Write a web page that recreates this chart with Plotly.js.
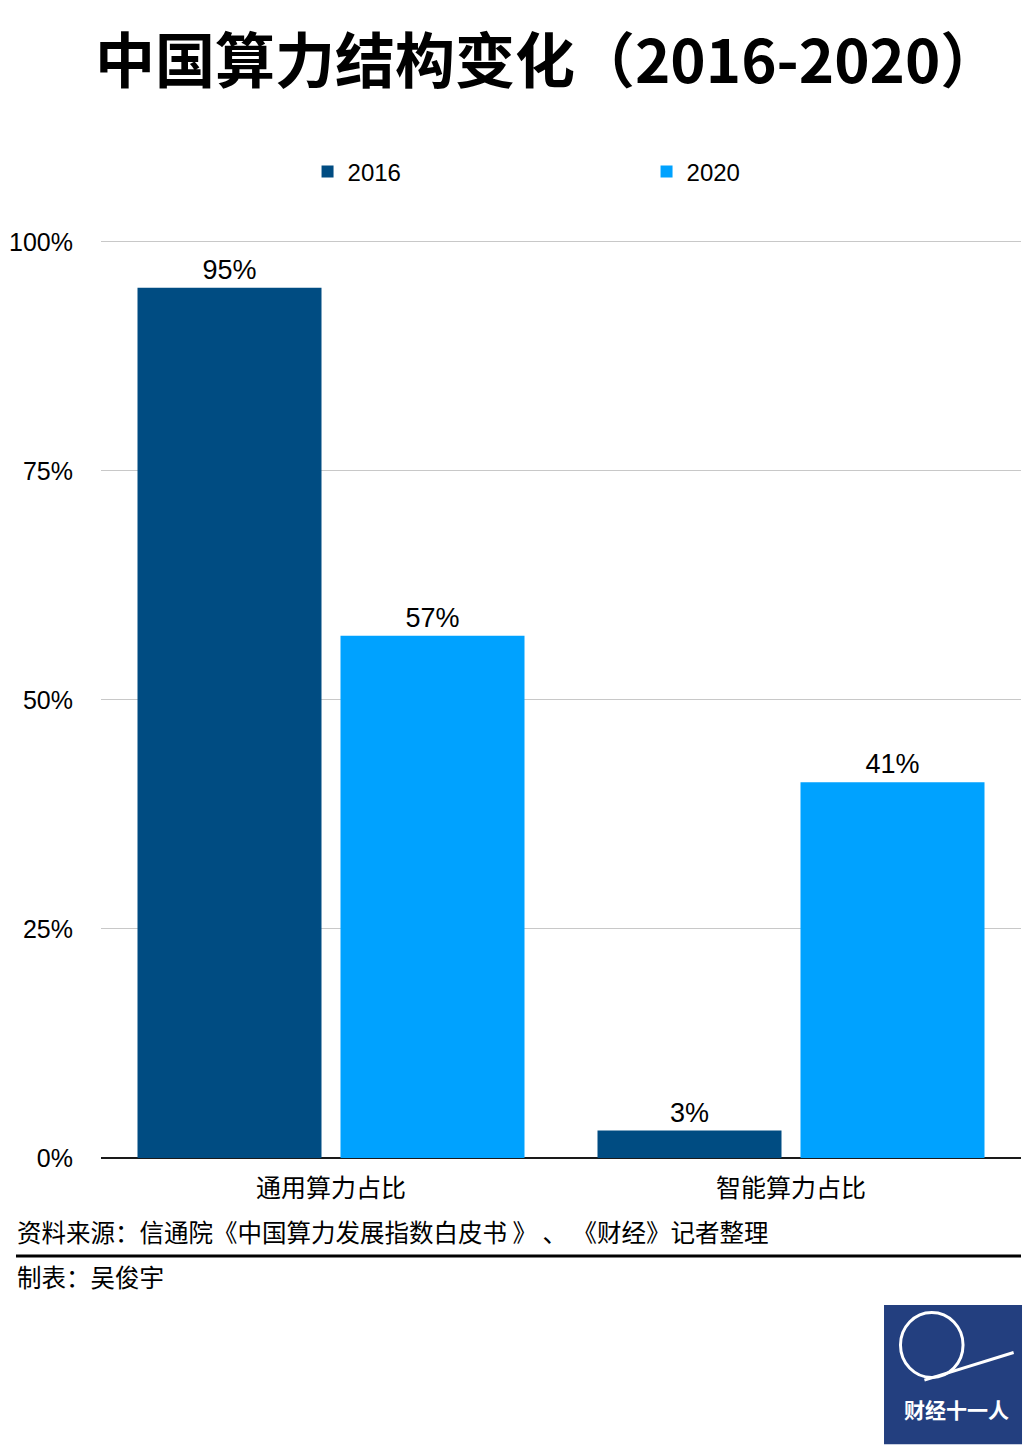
<!DOCTYPE html>
<html>
<head>
<meta charset="utf-8">
<script src="https://cdn.plot.ly/plotly-3.0.1.min.js"></script>
<style>html,body{margin:0;padding:0;background:#fff;}#chart{width:1032px;height:1452px;}</style>
</head>
<body>
<div id="chart"></div>
<script>
const categories = ["通用算力占比", "智能算力占比"];
const seriesNames = ["2016", "2020"];
const values2016 = [95, 3];
const values2020 = [57, 41];
const yTicks = [0, 25, 50, 75, 100];
const yTickLabels = ["0%", "25%", "50%", "75%", "100%"];

const FONT = "Liberation Sans, Arial, Noto Sans CJK SC, sans-serif";
const CJK = "Noto Sans CJK SC, Liberation Sans, sans-serif";

const traces = [
  {type: "bar", name: seriesNames[0], x: categories, y: values2016,
   marker: {color: "#004c82"}, texttemplate: "%{y}%", textposition: "outside",
   textfont: {size: 27, color: "#000", family: FONT}, cliponaxis: false, hoverinfo: "skip"},
  {type: "bar", name: seriesNames[1], x: categories, y: values2020,
   marker: {color: "#00a2ff"}, texttemplate: "%{y}%", textposition: "outside",
   textfont: {size: 27, color: "#000", family: FONT}, cliponaxis: false, hoverinfo: "skip"}
];

const layout = {
  width: 1032, height: 1452,
  margin: {l: 101, r: 11, t: 240, b: 294},
  paper_bgcolor: "#fff", plot_bgcolor: "#fff",
  font: {family: FONT, color: "#000"},
  title: {text: "<b>中国算力结构变化（2016-2020）</b>", x: 0.092, xanchor: "left", y: 0.957, yanchor: "middle",
          font: {family: CJK, size: 60, color: "#000"}},
  barmode: "group", bargap: 0.1174, bargroupgap: 0.0936,
  showlegend: true,
  legend: {orientation: "h", x: 0.2245, xanchor: "left", y: 1.0743, yanchor: "middle",
           entrywidth: 294, entrywidthmode: "pixels",
           font: {size: 24, family: FONT, color: "#000"}, traceorder: "normal"},
  xaxis: {type: "category", showgrid: false, showline: false, zeroline: false, ticks: "",
          tickfont: {size: 25, family: CJK, color: "#000"}, ticklabelstandoff: 13, fixedrange: true},
  yaxis: {range: [0, 100.2], tickvals: yTicks, ticktext: yTickLabels, showgrid: true,
          gridcolor: "#c8c8c8", gridwidth: 1, zeroline: true, zerolinecolor: "#1a1a1a", zerolinewidth: 2,
          showline: false, ticks: "", tickfont: {size: 25, family: FONT, color: "#000"},
          ticklabelstandoff: 27, fixedrange: true},
  shapes: [
    {type: "line", xref: "paper", yref: "paper", x0: -0.0924, x1: 1.0, y0: -0.1067, y1: -0.1067,
     line: {color: "#000", width: 3}},
    {type: "rect", xref: "paper", yref: "paper", x0: 0.8511, x1: 1.0011, y0: -0.3118, y1: -0.1601,
     fillcolor: "#233f7f", line: {width: 0}},
    {type: "circle", xref: "paper", yref: "paper", x0: 0.869, x1: 0.937, y0: -0.2391, y1: -0.1682,
     fillcolor: "rgba(0,0,0,0)", line: {color: "#fff", width: 3}},
    {type: "line", xref: "paper", yref: "paper", x0: 0.895, x1: 0.992, y0: -0.242, y1: -0.2119,
     line: {color: "#fff", width: 3}}
  ],
  annotations: [
    {text: "资料来源：信通院《中国算力发展指数白皮书 》 、 《财经》记者整理", xref: "paper", yref: "paper",
     x: -0.094, xanchor: "left", y: -0.0797, yanchor: "middle", showarrow: false,
     font: {size: 24.5, family: CJK, color: "#000"}},
    {text: "制表：吴俊宇", xref: "paper", yref: "paper",
     x: -0.094, xanchor: "left", y: -0.1286, yanchor: "middle", showarrow: false,
     font: {size: 24.5, family: CJK, color: "#000"}},
    {text: "<b>财经十一人</b>", xref: "paper", yref: "paper",
     x: 0.93, xanchor: "center", y: -0.2738, yanchor: "middle", showarrow: false,
     font: {size: 21, family: CJK, color: "#fff"}}
  ]
};

Plotly.newPlot("chart", traces, layout, {staticPlot: true, displayModeBar: false});
</script>
</body>
</html>
